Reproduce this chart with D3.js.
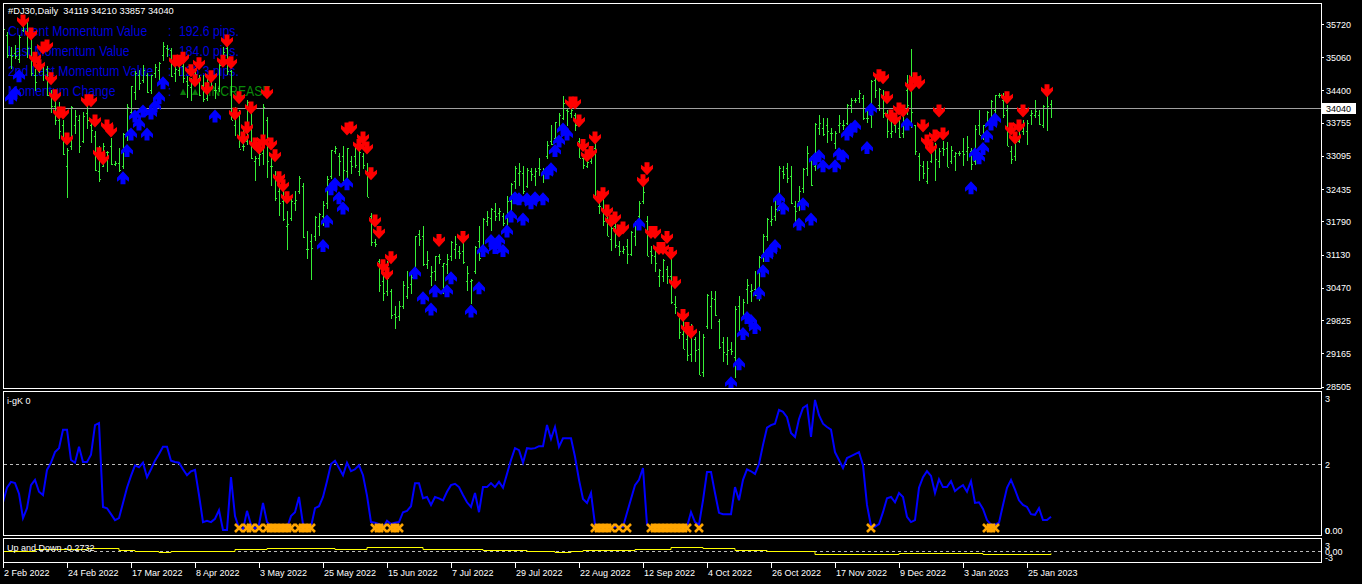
<!DOCTYPE html>
<html>
<head>
<meta charset="utf-8">
<script src="https://cdn.jsdelivr.net/npm/d3@7"></script>
<style>
  body { margin: 0; background: #000; }
  svg { display: block; }
  text { font-family: "Liberation Sans", Arial, sans-serif; }
</style>
</head>
<body>
<script>
// ---- data ----
var dateLabels = ["2 Feb 2022","24 Feb 2022","17 Mar 2022","8 Apr 2022","3 May 2022","25 May 2022","15 Jun 2022","7 Jul 2022","29 Jul 2022","22 Aug 2022","12 Sep 2022","4 Oct 2022","26 Oct 2022","17 Nov 2022","9 Dec 2022","3 Jan 2023","25 Jan 2023"];
var dateBars = [0,16,32,48,64,80,96,112,128,144,160,176,192,208,224,240,256];
var priceTicks = [35720,35060,34400,33755,33095,32435,31790,31130,30470,29825,29165,28505];
var lastPrice = 34040;

var opens = [35400,35500,35100,35150,35030,35600,35520,35240,34700,34780,34900,34820,34300,34080,33800,33700,32900,33300,33700,33800,
33400,33950,33700,33500,32800,32900,33180,33300,32940,32950,32900,33560,33960,34360,34700,34600,34700,34400,34750,34800,
35100,35240,35200,34750,34800,34880,34580,34470,34550,34650,34500,34250,34600,34400,34450,34950,35250,34780,33700,33950,
33300,33400,34000,33000,33050,33150,33800,32900,32650,32400,32200,31700,31850,32150,32400,32500,31250,31400,31500,31700,
31900,32150,32700,33200,33100,33100,32800,33000,33100,32800,33100,32800,31900,31390,31000,30600,30400,30400,29950,29900,
30100,30300,30550,30750,31550,31500,30950,30700,30800,31100,30900,30950,31100,31250,31200,31200,30600,30600,30800,31400,
31300,31800,31850,32000,31950,31900,31850,32200,32600,32750,32750,32500,32800,32700,32850,32800,33100,33400,33450,33650,
33850,34000,33950,33900,33400,33050,32900,33000,33250,32100,32250,31900,31450,31700,31300,31200,31300,31150,31500,31900,
32200,31800,31200,31100,30700,30700,30850,30700,30150,29900,29550,29450,29150,29450,29250,28800,29700,30100,30250,29800,
29400,29150,29250,29100,30100,29900,30450,30400,30450,30350,31100,31500,31800,31900,32100,32800,32850,32700,32100,32200,
32450,32850,33050,32900,33650,33650,33700,33550,33350,33700,33700,33750,34100,34200,34250,34250,33850,33900,34600,34100,
34300,33950,33550,33700,33650,33550,34400,34050,33700,33100,32900,32600,33000,33300,33000,33250,33250,33000,33100,33150,
33200,33200,33200,33000,33700,33500,33750,34050,34000,34300,34200,34000,33200,33100,33400,33600,33600,33900,33900,33900,
33700,34050,34119];
var highs = [35700,35560,35270,35310,35500,35820,35820,35500,34830,35020,34950,34880,34400,34200,34160,33800,33260,34080,34000,33900,
33960,34110,33800,33600,33300,33350,33200,33450,33000,33250,33560,34130,34490,34780,34800,34900,34750,34710,34920,34970,
35370,35300,35250,34900,34950,35000,34680,34650,34780,34700,34700,34650,34700,34550,34950,35260,35500,34800,34070,34000,
33650,34200,34050,33100,33300,34120,33860,33050,32800,32650,32500,32000,32300,32400,32700,32550,31600,31550,31900,31950,
32200,32700,33220,33300,33150,33300,33250,33100,33270,33220,33150,32950,31950,31450,31050,30700,31000,30450,30100,30200,
30600,30800,30750,31510,31620,31700,31200,30900,31100,31150,30970,31150,31400,31500,31300,31500,30900,30650,31300,31700,
31850,32000,32050,32150,32050,31950,32300,32550,32900,32950,32900,32850,32850,32850,33050,32850,33400,33700,33770,33950,
34280,34050,34100,33950,33450,33100,33150,33300,33370,32300,32300,32050,31700,31950,31400,31300,31450,31600,31800,32200,
32500,31900,31300,31250,30850,31050,30900,31100,30300,29950,29800,29600,29750,29500,29600,29550,30350,30400,30400,29850,
29500,29500,29400,30100,30300,30250,30650,30550,30800,31100,31550,31860,32100,32250,32900,32900,32950,32900,32200,32500,
32850,33300,33100,33750,33900,33850,33850,33650,33600,33900,33800,34120,34250,34250,34400,34300,34000,34600,34650,34450,
34400,34000,33800,33850,33800,34050,34700,35220,33700,33150,33000,33000,33450,33350,33250,33400,33380,33300,33180,33200,
33450,33500,33250,33700,34000,33700,33980,34200,34310,34350,34350,34100,33300,33400,33700,33800,33800,34000,34200,34000,
34100,34350,34210];
var lows = [35350,35050,34830,35030,34950,35560,35050,34680,34400,34740,34600,34280,33940,33700,33420,33110,32270,33200,33520,33150,
33350,33630,33340,32800,32580,32880,32780,32910,32900,32780,32850,33400,33900,34200,34400,34550,34350,34330,34640,34600,
35000,35070,34670,34560,34700,34550,34250,34200,34500,34280,34170,34200,34400,34230,34380,34950,34700,33800,33500,33240,
33200,33300,33030,32600,32900,32900,32650,32500,32200,31900,31800,31230,31800,32000,32350,31450,31050,30630,31400,31500,
31700,32050,32650,33150,32700,32600,32650,32750,32850,32700,32830,32270,31300,31300,30400,30200,30300,29850,29650,29800,
30050,30250,30350,30700,31300,30900,30850,30500,30600,30950,30350,30750,31000,31050,31050,30950,30400,30150,30750,31000,
31200,31700,31600,31800,31800,31700,31700,31950,32450,32500,32350,32450,32600,32500,32700,32550,33050,33300,33350,33600,
33800,33700,33850,33600,33050,32850,32850,32950,32250,31950,31700,31500,31200,31250,31100,31150,30950,31100,31300,31850,
32150,31100,30950,30800,30500,30600,30550,30150,29950,29450,29250,29000,29000,29000,28720,28700,29650,29650,29900,29250,
29000,28950,29150,28660,29600,29850,30150,30200,30300,30200,31000,31400,31700,31800,32000,32650,32550,32150,31730,32000,
32350,32700,32500,32800,33500,33500,33350,33400,33250,33550,33600,33700,33950,34150,34150,33800,33750,33650,34250,34000,
33850,33450,33450,33550,33450,33450,33900,33650,33100,32600,32650,32550,32950,32600,32850,33100,32880,32950,32800,33100,
32900,33000,32810,32900,33500,33400,33700,33800,33900,34250,33850,33280,32950,33000,33350,33500,33300,33700,33850,33700,
33650,33600,33857];
var closes = [35630,35110,35090,35090,35460,35770,35240,34740,34570,34990,34930,34310,34080,33800,33600,33130,33220,34060,33890,33290,
33890,33800,33610,32820,32630,33290,33170,32940,32960,32820,33540,34060,34480,34750,34550,34810,34360,34710,34860,34950,
35290,35230,34680,34820,34920,34640,34500,34580,34720,34310,34220,34560,34450,34410,34910,35160,34790,33810,34050,33240,
33300,34160,33060,33060,33130,34060,33000,32900,32250,32160,31830,31730,32200,32220,32650,31490,31250,31260,31880,31930,
32120,32640,33210,33250,32990,32810,33250,32900,32920,33180,32910,32270,31390,31350,30520,30360,30670,29930,29890,30100,
30530,30480,30680,31500,31440,30950,31030,30780,31100,31050,30970,31040,31380,31340,31170,30980,30770,30630,31290,31070,
31830,31870,32040,31900,31990,31760,32200,32530,32850,32800,32400,32810,32730,32800,32830,32770,33310,33340,33760,33910,
34150,33980,34000,33710,33060,32910,32970,33290,32280,32100,31790,31510,31660,31320,31200,31250,31150,31580,31770,32150,
32380,31100,31130,30960,30820,31020,30710,30180,30080,29590,29260,29130,29680,29230,28730,29490,30320,30270,29930,29300,
29200,29240,29210,30040,29630,30190,30520,30420,30330,31080,31500,31840,31840,32030,32860,32730,32650,32150,32000,32400,
32830,33160,32510,33720,33750,33540,33590,33550,33550,33750,33700,34100,34200,34200,34350,33850,33850,34590,34400,34430,
33950,33600,33600,33780,33480,34000,34110,33970,33200,32920,32760,32850,33380,33030,33200,33240,32880,33220,33150,33150,
33140,33270,32930,33630,33520,33700,33970,34190,34300,34300,33910,33300,33040,33380,33630,33730,33740,33950,33980,33720,
34090,34090,34040];

// red down / blue up signal arrows: [bar, price]
var downArrows = [[5,35780],[7,35520],[11,35280],[10,35240],[8,35040],[9,34890],[12,34630],[13,34290],[14,33950],[15,33950],
[16,33430],[21,34190],[22,34190],[23,33790],[26,33690],[27,33590],[24,33140],[25,33040],[43,34980],[44,34980],
[45,35040],[47,34790],[48,34590],[49,34930],[51,34430],[52,34670],[56,35380],[55,34980],[57,34950],[59,34250],
[58,33930],[62,34050],[66,34350],[61,33650],[60,33450],[63,33330],[65,33390],[64,33250],[67,33330],[68,33100],
[69,32660],[70,32500],[71,32260],[86,33630],[87,33650],[90,33450],[89,33300],[91,33250],[92,32740],[93,31800],
[94,31570],[97,31070],[95,30910],[96,30750],[109,31410],[115,31470],[142,34150],[143,34150],[144,33790],[148,33450],
[145,33300],[146,33100],[147,33160],[149,32260],[150,32340],[151,32000],[152,31800],[153,31860],[154,31600],[155,31660],
[161,32840],[160,32600],[162,31570],[163,31570],[166,31470],[164,31250],[165,31250],[167,31150],[168,30570],[170,29920],
[171,29660],[172,29580],[219,34690],[220,34650],[221,34250],[222,33890],[223,33830],[224,34030],[225,33990],[227,34490],
[228,34630],[229,34550],[230,33690],[231,33390],[232,33250],[233,33490],[235,33530],[234,33990],[251,34250],[255,33990],
[252,33630],[254,33690],[253,33450],[261,34390]];
var upArrows = [[4,34690],[2,34250],[3,34350],[30,32660],[31,33200],[32,33530],[33,33890],[34,33730],[35,33990],[36,33530],
[37,33950],[38,34090],[39,34250],[40,34550],[53,33890],[80,31310],[81,31800],[82,32440],[83,32540],[84,32260],
[85,32060],[86,32540],[103,30770],[105,30270],[107,30050],[108,30410],[111,30410],[112,30670],[117,30010],[119,30470],
[120,31210],[122,31410],[123,31270],[124,31410],[125,31210],[126,31600],[127,31900],[130,31840],[128,32260],[129,32240],
[131,32240],[132,32160],[133,32260],[135,32240],[136,32760],[137,32840],[138,33200],[139,33390],[140,33630],[141,33530],
[159,31740],[182,28580],[184,28960],[185,29560],[186,29880],[187,29820],[188,29680],[189,30370],[190,30810],[191,31110],
[192,31210],[193,31310],[194,32240],[195,32060],[199,31740],[200,32140],[202,31840],[203,33040],[204,33100],[205,32900],
[208,32900],[209,33140],[210,33100],[211,33530],[212,33630],[213,33690],[216,33260],[217,34030],[226,33730],[242,32460],
[243,33140],[244,33060],[245,33240],[246,33490],[247,33730],[248,33830]];

// i-gK panel line
var gk = [1.42,1.64,1.73,1.71,1.55,1.18,1.33,1.68,1.76,1.58,
1.53,1.91,2.02,2.18,2.24,2.52,2.52,2.06,2.02,2.26,
2.03,2.03,2.14,2.59,2.62,1.35,1.33,1.24,1.15,1.18,
1.41,1.64,1.82,1.98,1.95,2.02,1.80,1.92,2.05,2.15,
2.26,2.26,2.05,2.03,2.02,1.92,1.83,1.89,1.91,1.53,
1.12,1.14,1.12,1.17,1.30,1.00,1.00,1.80,1.21,1.03,
1.00,1.29,1.08,1.02,1.08,1.41,1.12,1.06,1.05,1.03,
1.03,1.03,1.21,1.27,1.50,1.09,1.05,1.05,1.33,1.36,
1.50,1.74,2.00,2.05,1.94,1.83,2.02,1.89,1.92,1.98,
1.83,1.52,1.12,1.11,1.09,1.03,1.14,1.09,1.11,1.12,
1.27,1.29,1.36,1.71,1.71,1.48,1.50,1.38,1.50,1.48,
1.45,1.58,1.68,1.70,1.65,1.53,1.42,1.35,1.56,1.27,
1.65,1.65,1.71,1.65,1.73,1.64,1.85,2.06,2.24,2.21,
2.02,2.24,2.23,2.24,2.27,2.27,2.59,2.38,2.56,2.26,
2.39,2.39,2.39,2.11,1.76,1.47,1.41,1.56,1.08,1.05,
1.05,1.05,1.05,1.05,1.05,1.05,1.26,1.47,1.68,1.76,
1.94,1.08,1.05,1.05,1.05,1.05,1.05,1.05,1.05,1.05,
1.05,1.05,1.27,1.12,1.08,1.45,1.88,1.88,1.56,1.26,
1.24,1.24,1.24,1.65,1.45,1.76,1.92,1.89,1.85,2.00,
2.29,2.55,2.59,2.61,2.82,2.79,2.71,2.47,2.41,2.68,
2.85,2.89,2.41,2.97,2.74,2.61,2.56,2.52,2.18,2.06,
1.94,2.09,2.12,2.15,2.18,1.98,1.38,1.06,1.05,1.09,
1.27,1.48,1.50,1.42,1.56,1.50,1.20,1.12,1.15,1.64,
1.80,1.89,1.82,1.56,1.77,1.65,1.65,1.74,1.59,1.64,
1.68,1.58,1.74,1.41,1.42,1.32,1.15,1.08,1.08,1.11,
1.38,1.64,1.76,1.61,1.45,1.38,1.35,1.24,1.23,1.33,
1.15,1.15,1.20];
var gkLevel = 2;
var crossBars = [59,61,62,64,66,67,68,69,70,71,72,74,75,76,77,93,94,95,97,98,99,148,149,150,151,152,154,156,162,163,164,165,166,167,168,169,170,171,174,217,246,247,248];
var crossLevel = 1.03;

// Up and Down panel line
var upDown = [0.2,0.2,0.2,0.2,0.2,0.2,0.2,0.2,
1,1,1,1,1,1,1,1,1,
0.8,0.8,0.8,0.8,
1.35,1.35,1.35,1.35,1.35,1.35,1.35,1.35,
0.5,0.5,0.5,0.5,
0,0,0,0,0,0,
-0.65,-0.65,-0.65,
0,0,0,0,0,0,0,0,0,0,0,0,0,0,0,0,
1,1,1,1,1,1,1,1,
1.65,1.65,1.65,1.65,1.65,1.65,1.65,1.65,1.65,1.65,1.65,1.65,1.65,1.65,1.65,1.65,1.65,
1,1,1,1,1,1,1,1,
2.25,2.25,2.25,2.25,2.25,2.25,2.25,2.25,2.25,2.25,2.25,2.25,2.25,2.25,
1.15,1.15,1.15,1.15,1.15,1.15,1.15,1.15,1.15,1.15,1.15,1.15,1.15,1.15,1.15,
0.35,0.35,0.35,0.35,0.35,0.35,0.35,0.35,0.35,0.35,0.35,
0,0,0,0,0,0,0,
-0.5,-0.5,-0.5,-0.5,
0,0,0,
0.65,0.65,0.65,0.65,0.65,0.65,0.65,0.65,0.65,0.65,0.65,0.65,0.65,
1,1,1,1,1,1,1,1,1,
2.15,2.15,2.15,2.15,2.15,2.15,2.15,2.15,
1.65,1.65,1.65,1.65,1.65,1.65,1.65,1.65,
0.65,0.65,0.65,0.65,0.65,0.65,0.65,0.65,
-0.1,-0.1,-0.1,-0.1,-0.1,-0.1,-0.1,-0.1,-0.1,-0.1,-0.1,-0.1,
-1.35,-1.35,-1.35,-1.35,-1.35,-1.35,-1.35,-1.35,-1.35,-1.35,-1.35,-1.35,-1.35,-1.35,-1.35,-1.35,-1.35,-1.35,-1.35,-1.35,-1.35,
-0.85,-0.85,-0.85,-0.85,-0.85,-0.85,-0.85,-0.85,
-1,-1,-1,-1,-1,-1,-1,-1,-1,-1,-1,-1,-1,
-1.65,-1.65,-1.65,-1.65,-1.65,-1.65,-1.65,-1.65,-1.65,-1.65,-1.65,-1.65,-1.65,-1.65,-1.65,-1.65,-1.65,
-1];

var infoLabels = ["Current Momentum Value","Last Momentum Value","2nd Last Momentum Value","Momentum Change"];
var infoValues = ["192.6 pips.","184.0 pips.","126.3 pips.",""];

// ---- drawing ----
var W = 1362, H = 584;
var svg = d3.select("body").append("svg")
    .attr("width", W)
    .attr("height", H)
svg.append("rect").attr("width", W).attr("height", H).attr("fill", "#000")

var x = d3.scaleLinear().domain([0, 262]).range([3, 1051])
var yP = d3.scaleLinear().domain([28505, 35720]).range([386.5, 24])
var yK = d3.scaleLinear().domain([1, 3]).range([530, 398])
var yU = d3.scaleLinear().domain([-3, 3]).range([557, 545])

var defs = svg.append("defs")
function clip(id, y0, y1) {
  defs.append("clipPath").attr("id", id)
    .append("rect").attr("x", 4).attr("y", y0).attr("width", 1317).attr("height", y1 - y0)
}
clip("cMain", 4, 388)
clip("cK", 392, 535)
clip("cU", 539, 562)

// info labels (sit behind the bars)
var info = svg.append("g").attr("clip-path", "url(#cMain)")
info.append("text")
    .attr("x", 8).attr("y", 14)
    .attr("fill", "#fff").style("font-size", "9.3px")
    .attr("xml:space", "preserve")
    .text("#DJ30,Daily  34119 34210 33857 34040")

function infoText(tx, ty, t, col) {
  return info.append("text")
    .attr("transform", "translate(" + tx + "," + ty + ") scale(0.875,1)")
    .attr("fill", col).style("font-size", "14px")
    .text(t)
}
infoLabels.forEach(function(t, i) {
  var by = 36 + i * 20
  infoText(8, by, t, "#0000dd")
  infoText(168, by, ":", "#0000dd")
  if (infoValues[i]) infoText(179, by, infoValues[i], "#0000dd")
})
;[180, 192].forEach(function(tx) {
  info.append("text").attr("x", tx).attr("y", 94)
    .attr("fill", "#0a7a0a").style("font-family", "'DejaVu Sans', sans-serif").style("font-size", "8px")
    .text("▲")
})
infoText(208, 96, "INCREASE", "#0a8a0a")

// OHLC bars
var bars = svg.append("g").attr("clip-path", "url(#cMain)").attr("shape-rendering", "crispEdges").attr("fill", "#36f036")
var idx = d3.range(closes.length)
bars.selectAll("rect.hl").data(idx).enter().append("rect")
    .attr("x", function(i) { return Math.round(x(i)) })
    .attr("y", function(i) { return Math.round(yP(highs[i])) })
    .attr("width", 1)
    .attr("height", function(i) { return Math.max(1, Math.round(yP(lows[i]) - yP(highs[i]))) })
bars.selectAll("rect.o").data(idx).enter().append("rect")
    .attr("x", function(i) { return Math.round(x(i)) - 1 })
    .attr("y", function(i) { return Math.round(yP(opens[i])) })
    .attr("width", 1).attr("height", 1)
bars.selectAll("rect.c").data(idx).enter().append("rect")
    .attr("x", function(i) { return Math.round(x(i)) + 1 })
    .attr("y", function(i) { return Math.round(yP(closes[i])) })
    .attr("width", 1).attr("height", 1)

// bid line
svg.append("line")
    .attr("x1", 4).attr("x2", 1321)
    .attr("y1", Math.round(yP(lastPrice)) + 0.5).attr("y2", Math.round(yP(lastPrice)) + 0.5)
    .attr("stroke", "#a0a0a0")

// arrows (chevron heads)
var downPath = "M-2.5,-6.5L2.5,-6.5L2.5,-1.5L6,-4L6,0L0,6.5L-6,0L-6,-4L-2.5,-1.5Z"
var upPath = "M-2.5,6.5L2.5,6.5L2.5,1.5L6,4L6,0L0,-6.5L-6,0L-6,4L-2.5,1.5Z"
var arr = svg.append("g").attr("clip-path", "url(#cMain)")
arr.selectAll("path.dn").data(downArrows).enter().append("path")
    .attr("d", downPath)
    .attr("transform", function(d) { return "translate(" + x(d[0]) + "," + yP(d[1]) + ")" })
    .attr("fill", "#ff0000")
arr.selectAll("path.up").data(upArrows).enter().append("path")
    .attr("d", upPath)
    .attr("transform", function(d) { return "translate(" + x(d[0]) + "," + yP(d[1]) + ")" })
    .attr("fill", "#0000ff")

// i-gK panel
var gK = svg.append("g").attr("clip-path", "url(#cK)")
gK.append("line").attr("x1", 4).attr("x2", 1321)
    .attr("y1", yK(gkLevel) + 0.5).attr("y2", yK(gkLevel) + 0.5)
    .attr("stroke", "#bbb").attr("stroke-dasharray", "3,3")
gK.append("path")
    .datum(gk)
    .attr("d", d3.line().x(function(d, i) { return x(i) }).y(function(d) { return yK(d) }))
    .attr("fill", "none").attr("stroke", "#0000ff").attr("stroke-width", 2)
gK.selectAll("path.x").data(crossBars).enter().append("path")
    .attr("d", "M-4,-4L4,4M4,-4L-4,4")
    .attr("transform", function(b) { return "translate(" + x(b) + "," + yK(crossLevel) + ")" })
    .attr("stroke", "#ffa500").attr("stroke-width", 2.6).attr("fill", "none")

// Up and Down panel
var gU = svg.append("g").attr("clip-path", "url(#cU)")
gU.append("line").attr("x1", 4).attr("x2", 1321)
    .attr("y1", Math.round(yU(0)) + 0.5).attr("y2", Math.round(yU(0)) + 0.5)
    .attr("stroke", "#bbb").attr("stroke-dasharray", "3,3")
gU.append("path")
    .datum(upDown)
    .attr("d", d3.line().curve(d3.curveStepAfter).x(function(d, i) { return x(i) }).y(function(d) { return Math.round(yU(d)) + 0.5 }))
    .attr("fill", "none").attr("stroke", "#ffff00").attr("stroke-width", 1)

// frames
var frames = [[3.5, 385], [391.5, 144], [538.5, 24]]
svg.selectAll("rect.frame").data(frames).enter().append("rect")
    .attr("x", 3.5).attr("y", function(d) { return d[0] })
    .attr("width", 1318).attr("height", function(d) { return d[1] })
    .attr("fill", "none").attr("stroke", "#fff")

// panel titles
svg.append("text").attr("x", 7).attr("y", 404).attr("fill", "#fff").style("font-size", "9px").text("i-gK 0")
svg.append("text").attr("x", 7).attr("y", 551).attr("fill", "#fff").style("font-size", "9px").text("Up and Down -0.2732")

// right price axis
var axisR = svg.append("g")
axisR.selectAll("line.pt").data(priceTicks).enter().append("line")
    .attr("x1", 1321).attr("x2", 1324)
    .attr("y1", function(d) { return Math.round(yP(d)) + 0.5 })
    .attr("y2", function(d) { return Math.round(yP(d)) + 0.5 })
    .attr("stroke", "#fff")
axisR.selectAll("text.pt").data(priceTicks).enter().append("text")
    .attr("x", 1326).attr("y", function(d) { return yP(d) + 3.5 })
    .attr("fill", "#fff").style("font-size", "9px")
    .text(function(d) { return d })
axisR.append("rect")
    .attr("x", 1322).attr("y", Math.round(yP(lastPrice)) - 5)
    .attr("width", 34).attr("height", 11).attr("fill", "#fff")
axisR.append("text")
    .attr("x", 1326).attr("y", yP(lastPrice) + 3.5)
    .attr("fill", "#000").style("font-size", "9px")
    .text(lastPrice)

// indicator panel scale labels (the terminal prints "0" over "0.00" at the floor)
var kLabels = [[3, "3"], [2, "2"], [1, "0.00"], [1, "0"]]
axisR.selectAll("text.k").data(kLabels).enter().append("text")
    .attr("x", 1325).attr("y", function(d) { return yK(d[0]) + 3.5 })
    .attr("fill", "#fff").style("font-size", "9px")
    .text(function(d) { return d[1] })
var uLabels = [[3, "3"], [0, "0.00"], [-3, "-3"]]
axisR.selectAll("text.u").data(uLabels).enter().append("text")
    .attr("x", 1325).attr("y", function(d) { return yU(d[0]) + 3.5 })
    .attr("fill", "#fff").style("font-size", "9px")
    .text(function(d) { return d[1] })

// bottom date axis
var axisB = svg.append("g")
axisB.selectAll("line").data(dateBars).enter().append("line")
    .attr("x1", function(b) { return Math.round(x(b)) + 0.5 })
    .attr("x2", function(b) { return Math.round(x(b)) + 0.5 })
    .attr("y1", 563).attr("y2", 568)
    .attr("stroke", "#fff")
axisB.selectAll("text").data(dateLabels).enter().append("text")
    .attr("x", function(d, i) { return Math.round(x(dateBars[i])) + 1 })
    .attr("y", 576)
    .attr("fill", "#fff").style("font-size", "9px")
    .text(function(d) { return d })
</script>
</body>
</html>
